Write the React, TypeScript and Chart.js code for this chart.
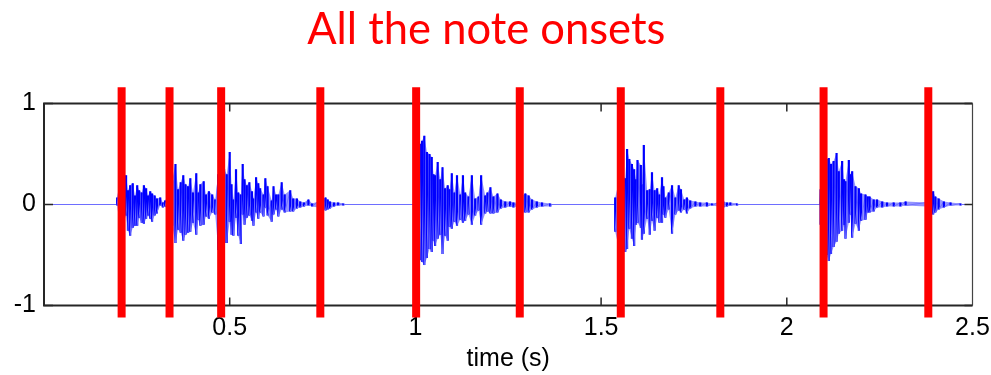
import React, { useEffect, useRef } from "react";
import { Chart, registerables } from "chart.js";

Chart.register(...registerables);

const titleText = "All the note onsets";
const xAxisTitle = "time (s)";
const xTickValues = [0.5, 1, 1.5, 2, 2.5];
const yTickValues = [-1, 0, 1];

// onset markers (seconds) and their vertical extent (amplitude units)
const onsetTimes = [0.209, 0.338, 0.477, 0.744, 1.002, 1.281, 1.553, 1.821, 2.099, 2.381];
const onsetSpan = [-1.12, 1.16];

// waveform: per note, peak times with upper and lower excursions
const note1Times = [
  0.197, 0.205, 0.213, 0.221, 0.226, 0.232, 0.239, 0.245, 0.251, 0.256, 0.263, 0.269, 0.275, 0.28, 0.286, 0.291, 0.298, 0.304, 0.313, 0.32, 0.326, 0.334,
  0.345, 0.354, 0.361, 0.368, 0.375, 0.381, 0.388, 0.394, 0.401, 0.41, 0.416, 0.421, 0.43, 0.436, 0.444, 0.453, 0.461, 0.469, 0.477,
  0.485, 0.492, 0.5, 0.505, 0.51, 0.517, 0.523, 0.53, 0.535, 0.54, 0.546, 0.553, 0.56, 0.564, 0.571, 0.577, 0.582, 0.591, 0.596, 0.602,
  0.613, 0.618, 0.625, 0.631, 0.64, 0.648, 0.663, 0.671, 0.681, 0.69, 0.7, 0.712, 0.722, 0.738, 0.749, 0.758, 0.764, 0.77, 0.781, 0.792, 0.806,
];
const note1Highs = [
  0.07, 0.26, 0.28, 0.29, 0.14, 0.19, 0.21, 0.09, 0.19, 0.14, 0.12, 0.19, 0.16, 0.09, 0.13, 0.11, 0.09, 0.06, 0.07, 0.02, 0.04, 0.09,
  0.24, 0.4, 0.15, 0.22, 0.29, 0.2, 0.18, 0.26, 0.12, 0.31, 0.12, 0.2, 0.23, 0.1, 0.13, 0.1, 0.05, 0.3, 0.35,
  0.35, 0.3, 0.52, 0.2, 0.05, 0.35, 0.12, 0.1, 0.4, 0.25, 0.19, 0.22, 0.13, 0.06, 0.27, 0.21, 0.16, 0.1, 0.26, 0.18,
  0.04, 0.18, 0.1, 0.1, 0.22, 0.1, 0.14, 0.06, 0.06, 0.03, 0.02, 0.05, 0.01, 0.03, 0.05, 0.07, 0.05, 0.03, 0.02, 0.02, 0.01,
];
const note1Lows = [
  -0.01, -0.24, -0.18, -0.11, -0.26, -0.31, -0.23, -0.21, -0.21, -0.13, -0.18, -0.19, -0.14, -0.11, -0.14, -0.17, -0.11, -0.09, -0.01, -0.03, -0.02, -0.06,
  -0.21, -0.38, -0.25, -0.28, -0.36, -0.3, -0.28, -0.27, -0.18, -0.3, -0.15, -0.21, -0.2, -0.12, -0.14, -0.08, -0.1, -0.45, -0.4,
  -0.38, -0.38, -0.17, -0.3, -0.31, -0.13, -0.31, -0.39, -0.1, -0.2, -0.13, -0.11, -0.16, -0.21, -0.08, -0.14, -0.08, -0.12, -0.03, -0.11,
  -0.17, -0.1, -0.05, -0.12, -0.05, -0.08, -0.07, -0.07, -0.04, -0.03, -0.02, -0.01, -0.02, -0.03, -0.03, -0.06, -0.05, -0.04, -0.02, -0.01, -0.01,
];

const note2Times = [
  0.997, 1.005, 1.012, 1.018, 1.024, 1.031, 1.038, 1.044, 1.049, 1.053, 1.06, 1.067, 1.073, 1.08, 1.087, 1.092, 1.098, 1.105, 1.112, 1.121,
  1.128, 1.134, 1.143, 1.152, 1.161, 1.17, 1.177, 1.188, 1.194, 1.202, 1.21, 1.221, 1.23, 1.242, 1.255, 1.264, 1.274, 1.285, 1.296, 1.305,
  1.314, 1.327, 1.341, 1.363,
];
const note2Highs = [
  0.3, 0.55, 0.6, 0.63, 0.68, 0.52, 0.5, 0.47, 0.3, 0.29, 0.42, 0.25, 0.37, 0.16, 0.19, 0.15, 0.31, 0.12, 0.29, 0.1,
  0.29, 0.12, 0.08, 0.29, 0.06, 0.08, 0.29, 0.09, 0.12, 0.17, 0.08, 0.11, 0.05, 0.03, 0.03, 0.02, 0.02, 0.08, 0.11, 0.09,
  0.05, 0.03, 0.02, 0.01,
];
const note2Lows = [
  -0.3, -0.5, -0.55, -0.57, -0.6, -0.53, -0.44, -0.47, -0.36, -0.41, -0.34, -0.3, -0.49, -0.31, -0.36, -0.22, -0.24, -0.17, -0.21, -0.15,
  -0.18, -0.16, -0.1, -0.2, -0.11, -0.06, -0.2, -0.09, -0.07, -0.09, -0.09, -0.08, -0.04, -0.03, -0.02, -0.03, -0.02, -0.08, -0.08, -0.08,
  -0.05, -0.03, -0.02, -0.02,
];

const note3Times = [
  1.538, 1.546, 1.556, 1.565, 1.57, 1.576, 1.583, 1.589, 1.594, 1.598, 1.607, 1.61, 1.615, 1.624, 1.631, 1.637, 1.644, 1.651, 1.657, 1.664,
  1.668, 1.673, 1.682, 1.691, 1.7, 1.709, 1.715, 1.724, 1.731, 1.74, 1.754, 1.767, 1.785, 1.799, 1.815, 1.829, 1.839, 1.848, 1.866,
];
const note3Highs = [
  0.07, 0.2, 0.3, 0.26, 0.55, 0.45, 0.4, 0.35, 0.25, 0.44, 0.39, 0.2, 0.59, 0.14, 0.15, 0.32, 0.14, 0.16, 0.1, 0.27,
  0.18, 0.07, 0.12, 0.19, 0.07, 0.19, 0.15, 0.05, 0.07, 0.04, 0.03, 0.02, 0.02, 0.01, 0.02, 0.03, 0.02, 0.02, 0.01,
];
const note3Lows = [
  -0.27, -0.4, -0.45, -0.47, -0.44, -0.24, -0.34, -0.41, -0.2, -0.18, -0.23, -0.35, -0.29, -0.14, -0.3, -0.16, -0.26, -0.13, -0.18, -0.18,
  -0.1, -0.13, -0.05, -0.29, -0.1, -0.06, -0.08, -0.05, -0.09, -0.04, -0.02, -0.02, -0.02, -0.01, -0.02, -0.03, -0.02, -0.01, -0.01,
];

const note4Times = [
  2.091, 2.099, 2.107, 2.113, 2.119, 2.126, 2.134, 2.14, 2.149, 2.154, 2.158, 2.167, 2.171, 2.176, 2.185, 2.194, 2.2, 2.212, 2.218, 2.223,
  2.234, 2.243, 2.257, 2.27, 2.288, 2.306, 2.32, 2.376, 2.386, 2.394, 2.4, 2.409, 2.423, 2.441, 2.468,
];
const note4Highs = [
  0.15, 0.35, 0.45, 0.46, 0.4, 0.43, 0.51, 0.33, 0.43, 0.25, 0.23, 0.44, 0.3, 0.33, 0.18, 0.16, 0.11, 0.1, 0.08, 0.08,
  0.05, 0.05, 0.03, 0.02, 0.02, 0.02, 0.03, 0.02, 0.1, 0.13, 0.08, 0.06, 0.03, 0.02, 0.01,
];
const note4Lows = [
  -0.2, -0.4, -0.5, -0.56, -0.49, -0.42, -0.37, -0.29, -0.26, -0.2, -0.34, -0.18, -0.1, -0.33, -0.19, -0.26, -0.16, -0.15, -0.08, -0.08,
  -0.07, -0.03, -0.03, -0.02, -0.02, -0.02, -0.01, -0.02, -0.1, -0.1, -0.08, -0.05, -0.03, -0.01, -0.01,
];

const timeRange = [0, 2.5];

const notes = [
  { times: note1Times, highs: note1Highs, lows: note1Lows },
  { times: note2Times, highs: note2Highs, lows: note2Lows },
  { times: note3Times, highs: note3Highs, lows: note3Lows },
  { times: note4Times, highs: note4Highs, lows: note4Lows },
];

type Pt = { x: number; y: number | null };

function buildWave(): Pt[] {
  const pts: Pt[] = [{ x: timeRange[0], y: 0 }];
  for (const n of notes) {
    pts.push({ x: n.times[0] - 0.002, y: 0 });
    n.times.forEach((t, i) => {
      pts.push({ x: t, y: n.highs[i] });
      pts.push({ x: t, y: n.lows[i] });
    });
    pts.push({ x: n.times[n.times.length - 1] + 0.002, y: 0 });
  }
  pts.push({ x: timeRange[1], y: 0 });
  return pts;
}

function buildEnvelope(key: "highs" | "lows"): Pt[] {
  const pts: Pt[] = [{ x: timeRange[0], y: 0 }];
  for (const n of notes) {
    pts.push({ x: n.times[0] - 0.002, y: 0 });
    n.times.forEach((t, i) => pts.push({ x: t, y: n[key][i] }));
    pts.push({ x: n.times[n.times.length - 1] + 0.002, y: 0 });
  }
  pts.push({ x: timeRange[1], y: 0 });
  return pts;
}

function buildOnsets(): Pt[] {
  const pts: Pt[] = [];
  for (const t of onsetTimes) {
    pts.push({ x: t, y: onsetSpan[0] });
    pts.push({ x: t, y: onsetSpan[1] });
    pts.push({ x: t, y: null });
  }
  return pts;
}

const framePlugin = {
  id: "matlabFrame",
  afterDatasetDraw(chart: any, args: any) {
    if (args.index !== 0) return;
    const { ctx, chartArea: a, scales } = chart;
    const xs = scales.x;
    const ys = scales.y;
    ctx.save();
    ctx.lineCap = "butt";
    ctx.strokeStyle = "#262626";
    ctx.lineWidth = 2;
    ctx.beginPath();
    ctx.moveTo(a.left, a.top);
    ctx.lineTo(a.right, a.top);
    ctx.moveTo(a.left, a.bottom);
    ctx.lineTo(a.right, a.bottom);
    ctx.moveTo(a.left, a.top - 1);
    ctx.lineTo(a.left, a.bottom + 1);
    ctx.stroke();
    ctx.strokeStyle = "#444";
    ctx.lineWidth = 1.2;
    ctx.beginPath();
    ctx.moveTo(a.right, a.top);
    ctx.lineTo(a.right, a.bottom);
    ctx.stroke();
    ctx.strokeStyle = "#262626";
    ctx.lineWidth = 1.5;
    ctx.beginPath();
    for (const v of xTickValues) {
      if (v >= xs.max) continue;
      const px = xs.getPixelForValue(v);
      ctx.moveTo(px, a.top);
      ctx.lineTo(px, a.top + 8);
      ctx.moveTo(px, a.bottom);
      ctx.lineTo(px, a.bottom - 8);
    }
    for (const v of yTickValues) {
      const py = ys.getPixelForValue(v);
      ctx.moveTo(a.left, py);
      ctx.lineTo(a.left + 9, py);
      ctx.moveTo(a.right - 8, py);
      ctx.lineTo(a.right, py);
    }
    ctx.stroke();
    ctx.restore();
  },
};

const tickFont = { family: "'Liberation Sans', Arial, sans-serif", size: 25 };

export default function App() {
  const ref = useRef<HTMLCanvasElement | null>(null);
  useEffect(() => {
    if (!ref.current) return;
    const chart = new Chart(ref.current, {
      type: "line",
      data: {
        datasets: [
          {
            data: buildWave(),
            order: 3,
            borderColor: "#0000ff",
            borderWidth: 1,
            pointRadius: 0,
            tension: 0,
            fill: false,
            segment: {
              borderColor: (c: any) => (c.p0.parsed.x === c.p1.parsed.x ? "#0000ff" : "#6e6eff"),
              borderWidth: (c: any) => (c.p0.parsed.x === c.p1.parsed.x ? 2.2 : 1),
            },
          } as any,
          {
            data: buildEnvelope("highs"),
            order: 5,
            borderWidth: 0,
            borderColor: "rgba(0,0,0,0)",
            pointRadius: 0,
            tension: 0,
            fill: "+1",
            backgroundColor: "rgba(0,0,255,0.42)",
          } as any,
          {
            data: buildEnvelope("lows"),
            order: 5,
            borderWidth: 0,
            borderColor: "rgba(0,0,0,0)",
            pointRadius: 0,
            tension: 0,
            fill: false,
          } as any,
          {
            data: buildOnsets(),
            order: 1,
            borderColor: "#ff0000",
            borderWidth: 8,
            pointRadius: 0,
            fill: false,
            spanGaps: false,
            clip: false,
          } as any,
        ],
      },
      options: {
        animation: false,
        responsive: true,
        maintainAspectRatio: false,
        events: [],
        layout: { padding: { left: 0, right: 18.5, top: 0, bottom: 0 } },
        plugins: {
          legend: { display: false },
          tooltip: { enabled: false },
          title: {
            display: true,
            text: titleText,
            color: "#ff0000",
            font: { family: "Lato", size: 43.5, weight: "normal", lineHeight: 1.2 },
            padding: { top: 3.5, bottom: 47.8 },
          },
        },
        scales: {
          x: {
            type: "linear",
            min: timeRange[0],
            max: timeRange[1],
            afterBuildTicks: (s: any) => {
              s.ticks = xTickValues.map((value) => ({ value }));
            },
            afterFit: (s: any) => {
              s.height = 69.5;
              s.paddingLeft = 0;
              s.paddingRight = 0;
            },
            ticks: {
              font: tickFont,
              color: "#000",
              padding: 8,
              maxRotation: 0,
              autoSkip: false,
              callback: (v: any) => String(v),
            },
            grid: { display: false, drawTicks: false },
            border: { display: false },
            title: {
              display: true,
              text: xAxisTitle,
              color: "#000",
              font: tickFont,
              padding: { top: 0, bottom: 1 },
            },
          },
          y: {
            type: "linear",
            min: -1,
            max: 1,
            afterBuildTicks: (s: any) => {
              s.ticks = yTickValues.map((value) => ({ value }));
            },
            afterFit: (s: any) => {
              s.width = 44;
              s.paddingTop = 0;
              s.paddingBottom = 0;
            },
            ticks: {
              font: tickFont,
              color: "#000",
              padding: 8,
              callback: (v: any) => String(v),
            },
            grid: { display: false, drawTicks: false },
            border: { display: false },
          },
        },
      },
      plugins: [framePlugin],
    });
    return () => chart.destroy();
  }, []);
  return (
    <div style={{ position: "fixed", left: 0, top: 0, width: 991, height: 375, background: "#fff" }}>
      <canvas ref={ref} />
    </div>
  );
}
